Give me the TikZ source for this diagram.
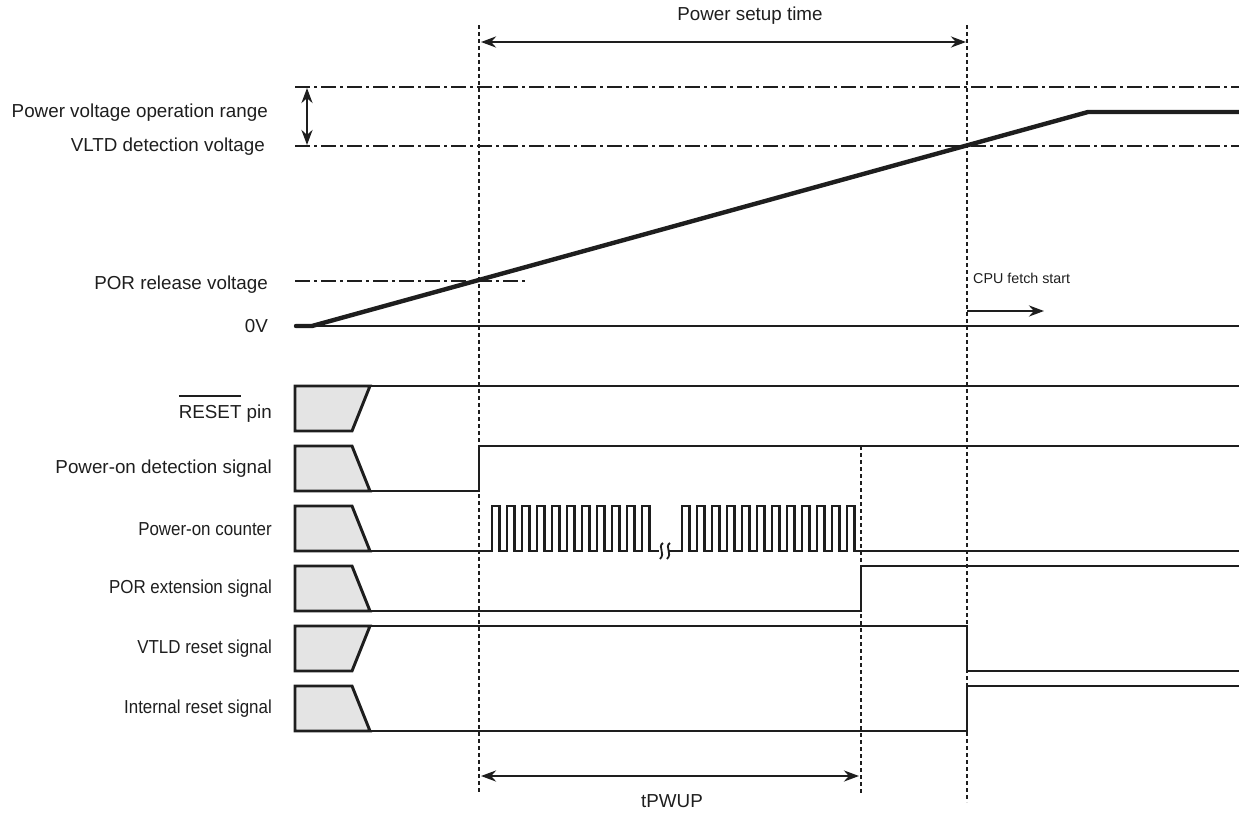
\documentclass[tikz,border=0pt]{standalone}
\usepackage{fontspec}
\setmainfont{Liberation Sans}
\newfontfamily\narrowfont[FakeStretch=0.9]{Liberation Sans}
\usetikzlibrary{arrows.meta}
\definecolor{boxgrey}{HTML}{E4E4E4}
\definecolor{ink}{HTML}{1E1E1E}
\begin{document}
\begin{tikzpicture}[x=1pt,y=-1pt, color=ink,
  lbl/.style={font=\fontsize{18.8}{22}\selectfont, inner sep=0pt, text=ink},
  nlbl/.style={font=\narrowfont\fontsize{18.8}{22}\selectfont, inner sep=0pt, text=ink},
  smalllbl/.style={font=\fontsize{14.3}{17}\selectfont, inner sep=0pt, text=ink},
  sig/.style={line width=2.9pt, line join=miter},
  pulse/.style={line width=2.4pt, line join=miter},
  greybox/.style={fill=boxgrey, draw=ink, line width=2.9pt, line join=miter},
  vdot/.style={line width=1.9pt, dash pattern=on 4pt off 3pt},
  dashdot/.style={line width=1.7pt, dash pattern=on 15pt off 4pt on 3pt off 4pt},
  dimarrow/.style={line width=2.7pt, {Stealth[length=15pt,width=11pt]}-{Stealth[length=15pt,width=11pt]}},
  onearrow/.style={line width=2.7pt, -{Stealth[length=15pt,width=11pt]}},
  ramp/.style={line width=4.4pt, line cap=round, line join=round}
]
\path[use as bounding box] (0,0) rectangle (1239,812);

% vertical dotted guides
\coordinate (A1) at (479,25);  \coordinate (A2) at (479,794);
\coordinate (B1) at (861,446); \coordinate (B2) at (861,794);
\coordinate (C1) at (967,25);  \coordinate (C2) at (967,802);
\draw[vdot] (A1) -- (A2);
\draw[vdot] (B1) -- (B2);
\draw[vdot] (C1) -- (C2);

% dash-dot levels
\draw[dashdot] (295,87) -- (1239,87);
\draw[dashdot] (295,146) -- (1239,146);
\draw[dashdot] (295,281) -- (525,281);

% power range arrow
\coordinate (pr1) at (307,88); \coordinate (pr2) at (307,145);
\draw[dimarrow] (pr1) -- (pr2);

% power setup time
\coordinate (ps1) at (481,42); \coordinate (ps2) at (966,42);
\draw[dimarrow] (ps1) -- (ps2);
\node[lbl] (pst) at (750,16) {Power setup time};

% voltage ramp and 0V
\draw[line width=2.9pt] (295,326) -- (1239,326);
\draw[ramp] (296,326) -- (312,326) -- (1088,112) -- (1239,112);

% CPU fetch
\coordinate (cf1) at (967,311); \coordinate (cf2) at (1044,311);
\draw[onearrow] (cf1) -- (cf2);
\node[smalllbl, anchor=west] (cfs) at (973,278) {CPU fetch start};

% upper labels
\node[lbl, anchor=east] (l1) at (268,113) {Power voltage operation range};
\node[lbl, anchor=east] (l2) at (265,147) {VLTD detection voltage};
\node[lbl, anchor=east] (l3) at (268,285) {POR release voltage};
\node[lbl, anchor=east] (l4) at (268,326) {0V};

% RESET pin (row 0)
\filldraw[greybox] (295,386) -- (370,386) -- (352,431) -- (295,431) -- cycle;
\draw[sig] (370,386) -- (1239,386);
% Power-on detection (row 1)
\filldraw[greybox] (295,446) -- (352,446) -- (370,491) -- (295,491) -- cycle;
\draw[sig] (370,491) -- (479,491) -- (479,446) -- (1239,446);
% Power-on counter (row 2)
\filldraw[greybox] (295,506) -- (352,506) -- (370,551) -- (295,551) -- cycle;
\draw[pulse] (370,551) -- (492,551)
  \foreach \i in {1,...,11}{ -- ++(0,-45) -- ++(7.5,0) -- ++(0,45) -- ++(7.5,0)} -- (659,551);
\draw[line width=1.8pt] (663,543) .. controls (657,547) and (666,553) .. (660,559);
\draw[line width=1.8pt] (670,543) .. controls (664,547) and (673,553) .. (667,559);
\draw[pulse] (669,551) -- (682,551)
  \foreach \i in {1,...,12}{ -- ++(0,-45) -- ++(7.5,0) -- ++(0,45) -- ++(7.5,0)} -- (1239,551);
% POR extension (row 3)
\filldraw[greybox] (295,566) -- (352,566) -- (370,611) -- (295,611) -- cycle;
\draw[sig] (370,611) -- (861,611) -- (861,566) -- (1239,566);
% VTLD reset (row 4)
\filldraw[greybox] (295,626) -- (370,626) -- (352,671) -- (295,671) -- cycle;
\draw[sig] (370,626) -- (967,626) -- (967,671) -- (1239,671);
% Internal reset (row 5)
\filldraw[greybox] (295,686) -- (352,686) -- (370,731) -- (295,731) -- cycle;
\draw[sig] (370,731) -- (967,731) -- (967,686) -- (1239,686);

% lower labels
\node[lbl, anchor=east] (s0) at (272,409) {\setbox0\hbox{RESET}\rlap{\raisebox{22pt}{\rule{\wd0}{1.8pt}}}RESET pin};
\node[lbl, anchor=east] (s1) at (272,469) {Power-on detection signal};
\node[nlbl, anchor=east] (s2) at (272,529) {Power-on counter};
\node[nlbl, anchor=east] (s3) at (272,589) {POR extension signal};
\node[nlbl, anchor=east] (s4) at (272,649) {VTLD reset signal};
\node[nlbl, anchor=east] (s5) at (272,709) {Internal reset signal};

% tPWUP
\coordinate (tp1) at (481,776); \coordinate (tp2) at (859,776);
\draw[dimarrow] (tp1) -- (tp2);
\node[lbl] (tpw) at (672,801) {tPWUP};
\end{tikzpicture}
\end{document}
